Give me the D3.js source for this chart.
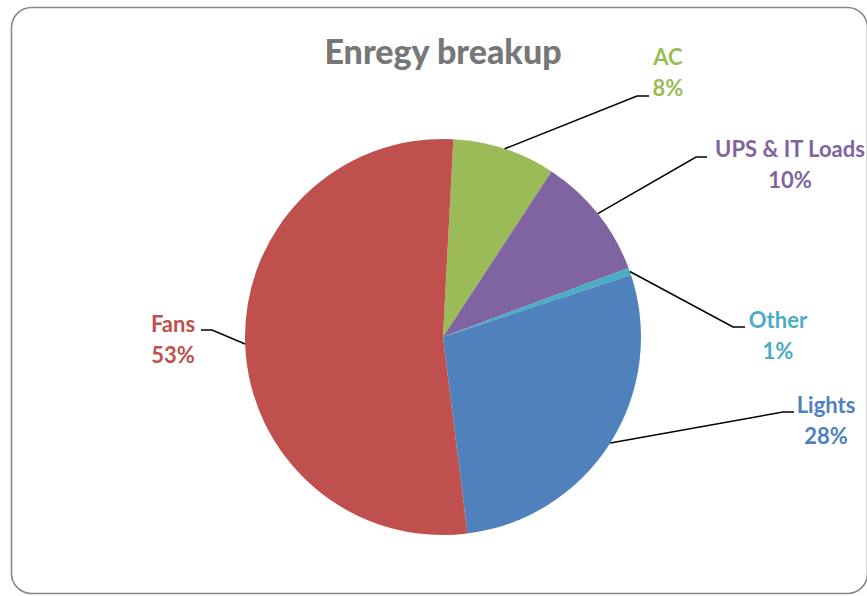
<!DOCTYPE html>
<html>
<head>
<meta charset="utf-8">
<script src="https://cdn.jsdelivr.net/npm/d3@7"></script>
<style>
  body { margin: 0; background: #fff; }
  svg { display: block; font-family: Lato, "Open Sans", sans-serif; }
</style>
</head>
<body>
<svg id="chart" width="867" height="596"></svg>
<script>
// data
var categories = ["AC", "UPS & IT Loads", "Other", "Lights", "Fans"];
var values = [8.4, 10.1, 0.6, 28.1, 52.8];
var colours = ["#9BBB59", "#8064A2", "#4BACC6", "#4F81BD", "#C0504D"];
var pct_labels = ["8%", "10%", "1%", "28%", "53%"];

// layout
var CX = 443, CY = 337, R = 198;
var START = 3 * Math.PI / 180;

// label text centre, elbow of the leader and its flat end
var label_pos = [
	{x: 668, y: 57, elbow: [637, 96], end: [649, 96]},
	{x: 790, y: 149, elbow: [696, 157], end: [707, 157]},
	{x: 778, y: 320, elbow: [733, 327], end: [745, 327]},
	{x: 826, y: 405, elbow: [783, 412], end: [794, 412]},
	{x: 173, y: 324, elbow: [212, 330], end: [201, 330]}
];

var svg = d3.select("#chart");

svg.append("rect")
	.attr("x", 11.5).attr("y", 7.5)
	.attr("width", 856).attr("height", 586)
	.attr("rx", 20).attr("ry", 20)
	.attr("fill", "#fff")
	.attr("stroke", "#888")
	.attr("stroke-width", 1.6);

svg.append("text")
	.attr("x", 443).attr("y", 64)
	.attr("text-anchor", "middle")
	.attr("font-size", 34)
	.attr("font-weight", "900")
	.attr("fill", "#777")
	.text("Enregy breakup");

var pie = d3.pie().sort(null)
	.startAngle(START).endAngle(START + 2 * Math.PI);
var arcs = pie(values);
var arc = d3.arc().innerRadius(0).outerRadius(R);

var g = svg.append("g").attr("transform", "translate(" + CX + "," + CY + ")");
g.selectAll("path").data(arcs).enter().append("path")
	.attr("d", arc)
	.attr("fill", function(d, i){ return colours[i]; })
	.attr("stroke", "none");

// leader lines: from the middle of the slice's arc to the elbow, then a short flat bit
var leaders = svg.append("g");
arcs.forEach(function(d, i){
	var lp = label_pos[i];
	var a = (d.startAngle + d.endAngle) / 2;
	var sx = CX + R * Math.sin(a), sy = CY - R * Math.cos(a);
	leaders.append("polyline")
		.attr("points", [[sx, sy], lp.elbow, lp.end].map(function(p){ return p.join(","); }).join(" "))
		.attr("fill", "none")
		.attr("stroke", "#000")
		.attr("stroke-width", 1.5);
});

var lbl = svg.selectAll("text.lbl").data(categories).enter().append("text")
	.attr("class", "lbl")
	.attr("text-anchor", "middle")
	.attr("font-size", 22)
	.attr("font-weight", "bold")
	.attr("fill", function(d, i){ return colours[i]; });
lbl.append("tspan")
	.attr("x", function(d, i){ return label_pos[i].x; })
	.attr("y", function(d, i){ return label_pos[i].y + 8; })
	.text(function(d){ return d; });
lbl.append("tspan")
	.attr("x", function(d, i){ return label_pos[i].x; })
	.attr("y", function(d, i){ return label_pos[i].y + 39; })
	.text(function(d, i){ return pct_labels[i]; });
</script>
</body>
</html>
